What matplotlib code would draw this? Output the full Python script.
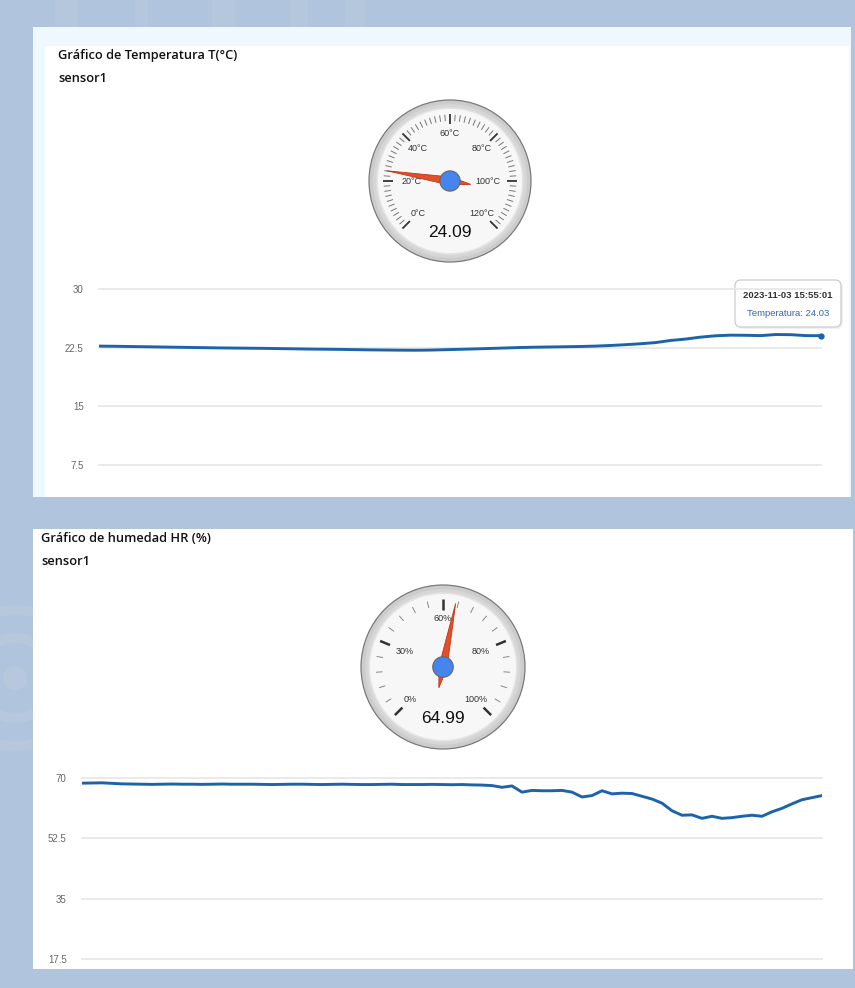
import numpy as np
import matplotlib.pyplot as plt
from matplotlib.patches import Rectangle, Circle, Polygon, FancyBboxPatch

W, H = 855, 988

# Temperatura sensor1 (°C)
temp_values = [22.70, 22.68, 22.65, 22.62, 22.59, 22.56, 22.53, 22.50, 22.47, 22.45,
               22.43, 22.41, 22.38, 22.35, 22.32, 22.30, 22.28, 22.25, 22.22, 22.20,
               22.18, 22.17, 22.19, 22.24, 22.29, 22.34, 22.40, 22.46, 22.52, 22.56,
               22.59, 22.62, 22.65, 22.70, 22.78, 22.88, 23.00, 23.15, 23.42, 23.60,
               23.85, 24.02, 24.10, 24.08, 24.04, 24.18, 24.16, 24.04, 24.03]
temp_ticks = [7.5, 15, 22.5, 30]
temp_tick_labels = ['7.5', '15', '22.5', '30']
temp_gauge_value = 24.09
temp_gauge_max = 120
temp_gauge_labels = ['0°C', '20°C', '40°C', '60°C', '80°C', '100°C', '120°C']
tooltip_fecha = '2023-11-03 15:55:01'
tooltip_valor = 24.03

# Humedad sensor1 (%)
hum_values = [68.50, 68.55, 68.60, 68.45, 68.30, 68.25,
              68.20, 68.15, 68.20, 68.25, 68.20, 68.20, 68.15, 68.20, 68.25, 68.20,
              68.20, 68.20, 68.15, 68.10, 68.15, 68.20, 68.20, 68.15, 68.10, 68.15,
              68.20, 68.15, 68.10, 68.10, 68.15, 68.20, 68.10, 68.10, 68.10, 68.15,
              68.10, 68.05, 68.10,
              68.00, 67.95, 67.80, 67.30, 67.70, 65.90, 66.40, 66.30, 66.30, 66.40,
              65.90, 64.50, 64.90, 66.30, 65.40, 65.60, 65.50, 64.70, 63.90, 62.70,
              60.50, 59.20, 59.30, 58.30, 58.90, 58.30, 58.50, 58.90, 59.20, 58.90,
              60.20, 61.20, 62.50, 63.70, 64.30, 64.90]
hum_ticks = [17.5, 35, 52.5, 70]
hum_tick_labels = ['17.5', '35', '52.5', '70']
hum_gauge_value = 64.99
hum_gauge_max = 120
hum_gauge_labels = ['0%', '30%', '60%', '80%', '100%']

BG = '#b0c4de'
LINE = '#1c63a9'
FONT = 'Liberation Sans'


def box(x0, y0, x1, y1):
    # caja en pixeles -> fracciones de figura
    return [x0 / W, 1 - y1 / H, (x1 - x0) / W, (y1 - y0) / H]


def draw_gauge(ax, cx, cy, R, labels, minor, vmax, value, major_lw, minor_col):
    ax.add_patch(Circle((cx, cy), R, fc='#cccccc', ec='#7a7a7a', lw=0.9))
    ax.add_patch(Circle((cx, cy), R * 0.95, fc='#d6d6d6', ec='none'))
    ax.add_patch(Circle((cx, cy), R * 0.9, fc='#f7f7f7', ec='#e3e3e3', lw=1.2))
    n = len(labels)
    span = np.radians(270)
    start = np.radians(-135)
    step = span / (n - 1)
    for i in range(n):
        a = start + step * i
        s, c = np.sin(a), np.cos(a)
        ax.plot([cx + R * 0.70 * s, cx + R * 0.83 * s],
                [cy - R * 0.70 * c, cy - R * 0.83 * c],
                color='#333333', lw=major_lw, solid_capstyle='butt')
        rl = R * (0.59 - 0.12 * s ** 4)
        ax.text(cx + rl * s, cy - rl * c, labels[i], ha='center', va='center',
                fontsize=6.5, color='#333333', family=FONT)
        if i < n - 1:
            for j in range(1, minor):
                b = a + step * j / minor
                sb, cb = np.sin(b), np.cos(b)
                ax.plot([cx + R * 0.74 * sb, cx + R * 0.82 * sb],
                        [cy - R * 0.74 * cb, cy - R * 0.82 * cb],
                        color=minor_col, lw=0.7, solid_capstyle='butt')
    # aguja
    a = start + span * value / vmax
    s, c = np.sin(a), np.cos(a)
    w = R * 0.05
    tip = (cx + R * 0.79 * s, cy - R * 0.79 * c)
    tail = (cx - R * 0.26 * s, cy + R * 0.26 * c)
    left = (cx - w * c, cy - w * s)
    right = (cx + w * c, cy + w * s)
    ax.add_patch(Polygon([tip, left, tail, right], closed=True,
                         fc='#e0502a', ec='#c63310', lw=0.6, zorder=5))
    ax.add_patch(Circle((cx, cy), R * 0.125, fc='#4684ee', ec='#666666', lw=0.8, zorder=6))
    ax.text(cx, cy + R * 0.63, f'{value:.2f}', ha='center', va='center',
            fontsize=12.5, color='#111111', family=FONT)


def draw_line_chart(rect, values, ticks, tick_labels):
    ax = fig.add_axes(rect)
    ax.patch.set_alpha(0)
    ax.plot(range(len(values)), values, color=LINE, lw=2.1, solid_joinstyle='round', zorder=3)
    ax.set_xlim(0, len(values) - 1)
    ax.set_ylim(ticks[0], ticks[-1])
    ax.set_yticks(ticks)
    ax.set_yticklabels(tick_labels, fontsize=7, color='#666666', family=FONT)
    ax.set_xticks([])
    ax.tick_params(axis='y', length=0, pad=11)
    for sp in ax.spines.values():
        sp.set_visible(False)
    ax.grid(axis='y', color='#e6e6e6', lw=1.2)
    for gl in ax.get_ygridlines():
        gl.set_clip_on(False)
    ax.set_axisbelow(True)
    return ax


fig = plt.figure(figsize=(W / 100, H / 100), dpi=100)
fig.patch.set_facecolor(BG)

cv = fig.add_axes([0, 0, 1, 1])
cv.set_xlim(0, W)
cv.set_ylim(H, 0)
cv.axis('off')

# marca de agua del fondo (muy tenue)
for x0, x1 in [(55, 78), (135, 148), (212, 235), (290, 308), (345, 365)]:
    cv.add_patch(Rectangle((x0, 0), x1 - x0, 27, fc='#c3cfdd', ec='none', alpha=0.3))
for r in [68, 40]:
    cv.add_patch(Circle((15, 678), r, fc='none', ec='#c5d0dc', lw=7, alpha=0.35))
cv.add_patch(Circle((15, 678), 12, fc='#c5d0dc', ec='none', alpha=0.35))

# paneles
cv.add_patch(Rectangle((33, 27), 818, 470, fc='#f0f8ff', ec='none'))
cv.add_patch(Rectangle((45, 46), 804, 451, fc='white', ec='none'))
cv.add_patch(Rectangle((33, 529), 820, 440, fc='white', ec='none'))

# titulos
tkw = dict(fontsize=9.3, weight='semibold', family='Open Sans', va='center', color='#111111')
cv.text(58, 55, 'Gráfico de Temperatura T(°C)', **tkw)
cv.text(58, 78, 'sensor1', **tkw)
cv.text(41, 538, 'Gráfico de humedad HR (%)', **tkw)
cv.text(41, 561, 'sensor1', **tkw)

# medidores
draw_gauge(cv, 450, 181, 81, temp_gauge_labels, 10, temp_gauge_max,
           temp_gauge_value, 1.3, '#777777')
draw_gauge(cv, 443, 667, 82, hum_gauge_labels, 5, hum_gauge_max,
           hum_gauge_value, 1.8, '#888888')

# graficos de linea
ax1 = draw_line_chart(box(99, 289, 821, 465), temp_values, temp_ticks, temp_tick_labels)
ax1.plot(len(temp_values) - 1, tooltip_valor, 'o', color=LINE, ms=3.5, zorder=4, clip_on=False)
ax2 = draw_line_chart(box(82, 778, 822, 959), hum_values, hum_ticks, hum_tick_labels)

# tooltip
cv.add_patch(FancyBboxPatch((737, 282), 106, 47, boxstyle='round,pad=0,rounding_size=6',
                            fc='#000000', ec='none', alpha=0.06, zorder=7))
cv.add_patch(FancyBboxPatch((735, 280), 106, 47, boxstyle='round,pad=0,rounding_size=6',
                            fc='white', ec='#cccccc', lw=0.9, zorder=8))
cv.text(788, 295, tooltip_fecha, ha='center', va='center', fontsize=6.8,
        weight='bold', color='#333333', family=FONT, zorder=9)
cv.text(788, 313, f'Temperatura: {tooltip_valor:.2f}', ha='center', va='center',
        fontsize=6.8, color='#3366aa', family=FONT, zorder=9)

fig.savefig('out.png', dpi=100, facecolor=BG)
